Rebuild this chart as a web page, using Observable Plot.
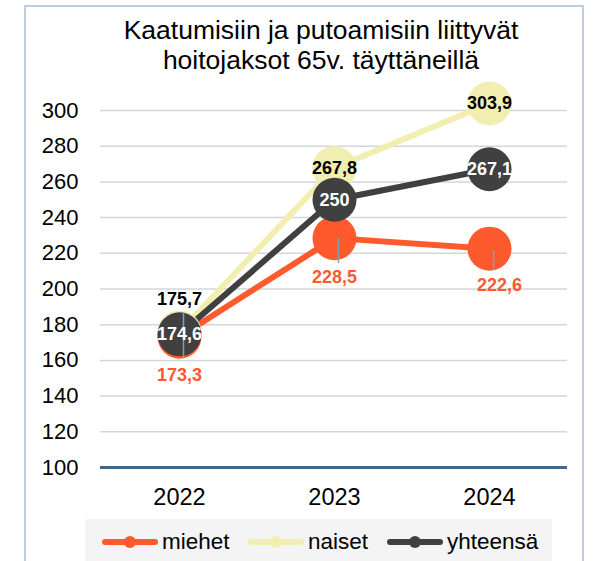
<!DOCTYPE html>
<html>
<head>
<meta charset="utf-8">
<script src="https://cdn.jsdelivr.net/npm/d3@7"></script>
<script src="https://cdn.jsdelivr.net/npm/@observablehq/plot@0.6"></script>
<style>
  html, body { margin: 0; padding: 0; background: #fff; overflow: hidden; }
  body { width: 597px; height: 561px; position: relative; font-family: "Liberation Sans", Arial, sans-serif; }
  #frame { position: absolute; left: 24px; top: 5px; width: 560px; height: 600px; border: 2px solid #bccde0; box-sizing: border-box; }
  #title { position: absolute; left: 321px; top: 15px; transform: translateX(-50%); white-space: nowrap; text-align: center; font-size: 26.5px; line-height: 30px; color: #000; }
  #chart { position: absolute; left: 0; top: 90px; }
  #legend { position: absolute; left: 85px; top: 519px; width: 467px; height: 50px; background: #f4f4f4; }
  .item { position: absolute; top: 10px; height: 26px; display: flex; align-items: center; font-size: 22.5px; color: #000; }
  .item svg { margin-right: 4px; }
</style>
</head>
<body>
<div id="frame"></div>
<div id="title">Kaatumisiin ja putoamisiin liittyvät<br>hoitojaksot 65v. täyttäneillä</div>
<div id="chart"></div>
<div id="legend"></div>
<script>
const years = ["2022", "2023", "2024"];
const miehet = [173.3, 228.5, 222.6];
const naiset = [175.7, 267.8, 303.9];
const yhteensa = [174.6, 250, 267.1];
const seriesNames = ["miehet", "naiset", "yhteensä"];
const seriesColors = ["#FF5A2E", "#F1EEB0", "#404040"];
const yTicks = [100, 120, 140, 160, 180, 200, 220, 240, 260, 280, 300];
// label leader lines (value range of the thin connector)
const leaderYears = ["2022", "2023", "2024"];
const leaderFrom = [186.8, 228.5, 221.6];
const leaderTo = [161.0, 214.3, 210.4];

const fmt = v => String(v).replace(".", ",");
const seriesValues = [miehet, naiset, yhteensa];
const rows = [];
seriesNames.forEach((s, i) => years.forEach((y, j) => rows.push({series: s, year: y, value: seriesValues[i][j], label: fmt(seriesValues[i][j])})));
const bySeries = s => rows.filter(r => r.series === s);
const leaders = leaderYears.map((y, i) => ({year: y, y1: leaderFrom[i], y2: leaderTo[i]}));

const drawOrder = ["naiset", "miehet", "yhteensä"];
const lbl = {fontWeight: "bold", fontSize: 18};
const marks = [
  Plot.ruleY(yTicks.filter(t => t > 100), {stroke: "#d3d6da", strokeWidth: 1.5}),
  Plot.ruleY([100], {stroke: "#44678a", strokeWidth: 3}),
  ...drawOrder.map(s => Plot.line(bySeries(s), {x: "year", y: "value", stroke: "series", strokeWidth: 6})),
  ...drawOrder.map(s => Plot.dot(bySeries(s), {x: "year", y: "value", fill: "series", r: 22})),
  Plot.ruleX(leaders, {x: "year", y1: "y1", y2: "y2", stroke: "#7f9dbd", strokeWidth: 1.5, dx: 4}),
  Plot.text(bySeries("naiset").filter(d => d.year === "2022"), {x: "year", y: "value", text: "label", dy: -33, fill: "#000", ...lbl}),
  Plot.text(bySeries("naiset").filter(d => d.year !== "2022"), {x: "year", y: "value", text: "label", fill: "#000", ...lbl}),
  Plot.text(bySeries("miehet").filter(d => d.year !== "2024"), {x: "year", y: "value", text: "label", dy: 39, fill: "#FF5A2E", ...lbl}),
  Plot.text(bySeries("miehet").filter(d => d.year === "2024"), {x: "year", y: "value", text: "label", dy: 37, dx: 10, fill: "#FF5A2E", ...lbl}),
  Plot.text(bySeries("yhteensä"), {x: "year", y: "value", text: "label", fill: "#fff", ...lbl})
];

const chart = Plot.plot({
  width: 597,
  height: 420,
  marginTop: 20,
  marginBottom: 43,
  marginLeft: 100,
  marginRight: 30,
  style: {fontFamily: "Liberation Sans, Arial, sans-serif", fontSize: "22px", color: "#000", background: "transparent", overflow: "visible"},
  x: {type: "point", domain: years, padding: 0.5, label: null, tickSize: 0, tickPadding: 21},
  y: {domain: [100, 300], ticks: yTicks, label: null, tickSize: 0, tickPadding: 22, tickFormat: d => String(d)},
  color: {domain: seriesNames, range: seriesColors},
  marks: [
    ...marks,
    Plot.axisX({tickSize: 0, tickPadding: 21, fontSize: 23.5, label: null}),
    Plot.axisY({ticks: yTicks, tickSize: 0, tickPadding: 22, fontSize: 22, label: null, tickFormat: d => String(d)})
  ]
});
document.getElementById("chart").appendChild(chart);

// legend
const legend = document.getElementById("legend");
const legendLeft = [17, 163, 302];
seriesNames.forEach((s, i) => {
  const div = document.createElement("div");
  div.className = "item";
  div.style.left = legendLeft[i] + "px";
  div.innerHTML = `<svg width="56" height="16"><line x1="3" y1="8" x2="53" y2="8" stroke="${seriesColors[i]}" stroke-width="6" stroke-linecap="round"/><circle cx="28" cy="8" r="6" fill="${seriesColors[i]}"/></svg><span>${s}</span>`;
  legend.appendChild(div);
});
</script>
</body>
</html>
